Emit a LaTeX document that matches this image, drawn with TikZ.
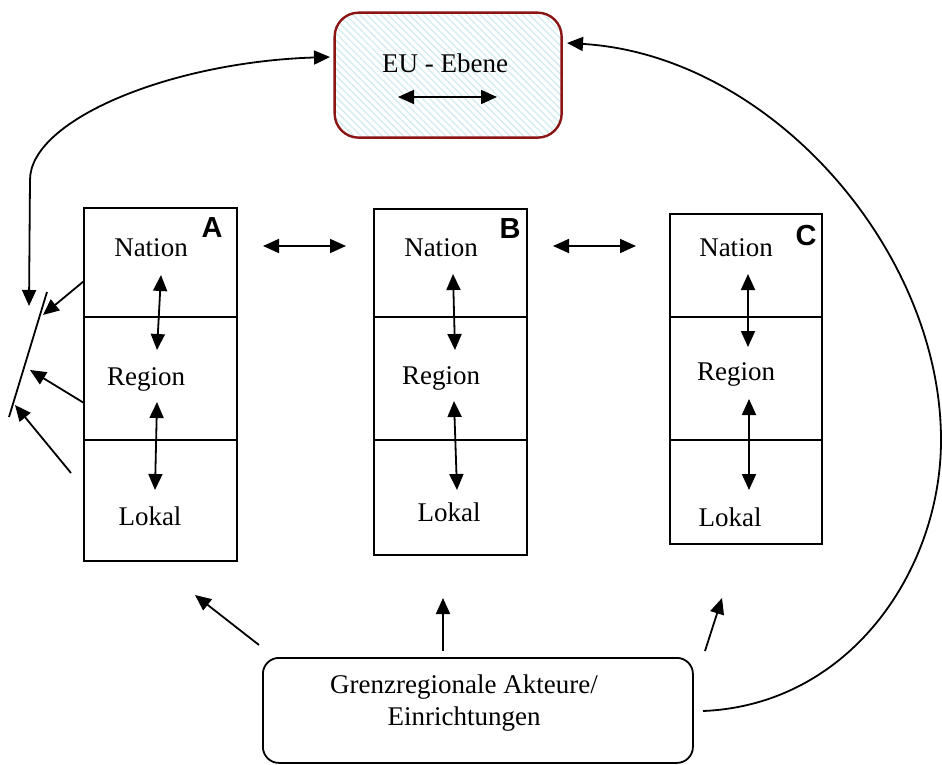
\documentclass[tikz,border=0pt]{standalone}
\usepackage{fontspec}
\setmainfont{Liberation Serif}
\newfontfamily\tagfont{Liberation Sans}
\usetikzlibrary{arrows.meta,patterns.meta}
\definecolor{eurim}{HTML}{8B1414}
\definecolor{euhatch}{HTML}{D2EBEE}

\begin{document}
\begin{tikzpicture}[x=1pt,y=-1pt,
  cell/.style={draw,line width=1.6pt,inner sep=0pt,anchor=north west,minimum width=153pt},
  lbl/.style={font=\fontsize{27}{30}\selectfont,inner sep=0pt,anchor=base},
  tag/.style={font=\tagfont\bfseries\fontsize{29}{32}\selectfont,inner sep=0pt,anchor=base},
  arr/.style={line width=1.8pt,-{Triangle[length=16pt,width=14pt]}},
  darr/.style={line width=1.8pt,{Triangle[length=16pt,width=14pt]}-{Triangle[length=16pt,width=14pt]}},
  plain/.style={line width=1.8pt},
]
\useasboundingbox (0,0) rectangle (942,765);

% EU level box
\node[draw=eurim,line width=2.4pt,rounded corners=24pt,anchor=north west,
      minimum width=227pt,minimum height=125pt,inner sep=0pt,
      pattern={Lines[angle=-45,distance=5pt,line width=1.3pt]},pattern color=euhatch]
      (eu) at (334,12) {};
\node[lbl] (eutxt) at (445,73) {EU - Ebene};
\coordinate (eul) at (398,97);
\coordinate (eur) at (497,97);
\draw[darr] (eul) -- (eur);

% column A
\node[cell,minimum height=109pt] (an) at (83,207) {};
\node[cell,minimum height=123pt] (ar) at (83,316) {};
\node[cell,minimum height=121pt] (al) at (83,439) {};
\node[tag] (ta) at (212,237) {A};
\node[lbl] (ant) at (151,256) {Nation};
\node[lbl] (art) at (146,385) {Region};
\node[lbl] (alt) at (150,525) {Lokal};

% column B
\node[cell,minimum height=108pt] (bn) at (373,208) {};
\node[cell,minimum height=123pt] (br) at (373,316) {};
\node[cell,minimum height=115pt] (bl) at (373,439) {};
\node[tag] (tb) at (510,238) {B};
\node[lbl] (bnt) at (441,256) {Nation};
\node[lbl] (brt) at (441,384) {Region};
\node[lbl] (blt) at (449,521) {Lokal};

% column C
\node[cell,minimum width=152pt,minimum height=103pt] (cn) at (669,213) {};
\node[cell,minimum width=152pt,minimum height=123pt] (cr) at (669,316) {};
\node[cell,minimum width=152pt,minimum height=104pt] (cl) at (669,439) {};
\node[tag] (tc) at (806,245) {C};
\node[lbl] (cnt) at (736,256) {Nation};
\node[lbl] (crt) at (736,380) {Region};
\node[lbl] (clt) at (730,526) {Lokal};

% vertical links between levels
\coordinate (a1) at (161,275); \coordinate (a2) at (157,350);
\coordinate (a3) at (157,402); \coordinate (a4) at (155,490);
\coordinate (b1) at (453,274); \coordinate (b2) at (455,350);
\coordinate (b3) at (454,401); \coordinate (b4) at (457,490);
\coordinate (c1) at (748,274); \coordinate (c2) at (748,347);
\coordinate (c3) at (749,399); \coordinate (c4) at (749,490);
\draw[darr] (a1) -- (a2);
\draw[darr] (a3) -- (a4);
\draw[darr] (b1) -- (b2);
\draw[darr] (b3) -- (b4);
\draw[darr] (c1) -- (c2);
\draw[darr] (c3) -- (c4);

% horizontal links between states
\coordinate (h1) at (263,246); \coordinate (h2) at (346,246);
\coordinate (h3) at (553,246); \coordinate (h4) at (636,246);
\draw[darr] (h1) -- (h2);
\draw[darr] (h3) -- (h4);

% actors box
\node[draw,line width=1.8pt,rounded corners=16pt,anchor=north west,
      minimum width=430pt,minimum height=105pt,inner sep=0pt] (act) at (262,657) {};
\node[lbl] (act1) at (464,693) {Grenzregionale Akteure/};
\node[lbl] (act2) at (464,725) {Einrichtungen};

% arrows from the actors towards the columns
\coordinate (p1) at (259,645); \coordinate (q1) at (195,595);
\coordinate (p2) at (443,651); \coordinate (q2) at (443,598);
\coordinate (p3) at (705,651); \coordinate (q3) at (722,598);
\draw[arr] (p1) -- (q1);
\draw[arr] (p2) -- (q2);
\draw[arr] (p3) -- (q3);

% slanted bar on the left with its incoming arrows
\coordinate (s1) at (47,292); \coordinate (s2) at (9,417);
\draw[plain] (s1) -- (s2);
\coordinate (l1) at (84,281); \coordinate (m1) at (43,315);
\coordinate (l2) at (84,403); \coordinate (m2) at (30,370);
\coordinate (l3) at (71,473); \coordinate (m3) at (15,405);
\draw[arr] (l1) -- (m1);
\draw[arr] (l2) -- (m2);
\draw[arr] (l3) -- (m3);

% curved link between the bar and the EU level
\coordinate (bartop) at (29,306);
\coordinate (eutip) at (330,57);
\draw[darr] (bartop) -- (30,180) .. controls (30,120) and (170,62) .. (eutip);

% curved link from the actors to the EU level
\coordinate (actr) at (703,711);
\coordinate (eutipr) at (567,43);
\draw[arr] (actr) .. controls (850,705) and (941,570) .. (941,440)
                  .. controls (941,250) and (770,55) .. (eutipr);
\end{tikzpicture}
\end{document}
